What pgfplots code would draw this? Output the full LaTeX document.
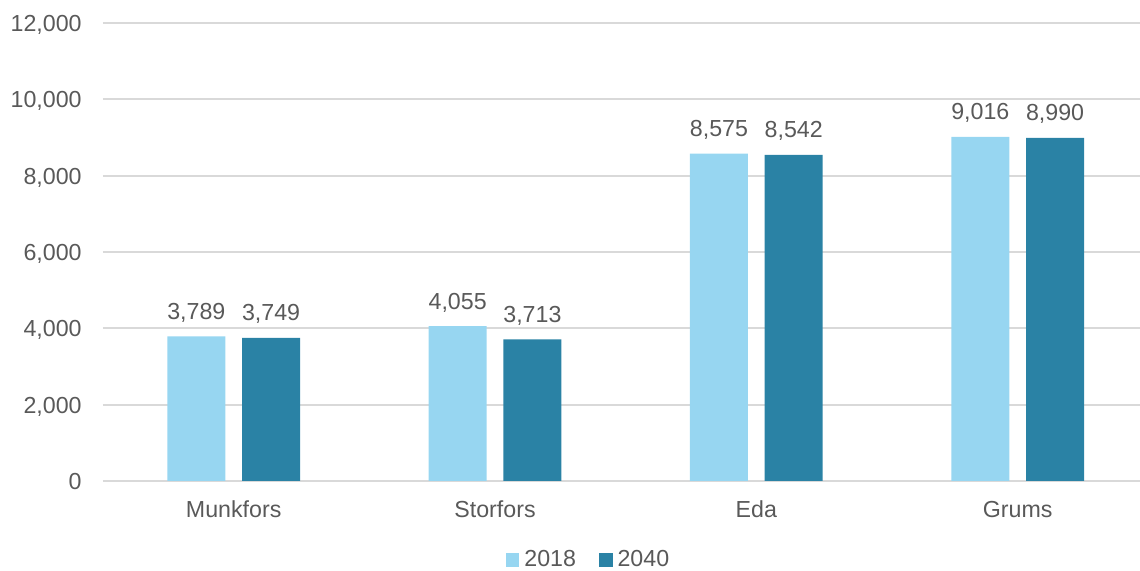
\documentclass[border=0pt]{standalone}
\usepackage{fontspec}
\setmainfont{Liberation Sans}
\usepackage{pgfplots}
\pgfplotsset{compat=1.18}
\definecolor{lightb}{HTML}{97D6F1}
\definecolor{darkb}{HTML}{2A82A5}
\definecolor{txt}{HTML}{595959}
\definecolor{gridc}{HTML}{D9D9D9}
\newcommand{\ff}{\fontsize{11.6pt}{13.9pt}\selectfont}
\begin{document}
\begin{tikzpicture}
\begin{axis}[
  at={(0pt,0pt)}, anchor=south west,
  scale only axis, width=518.5pt, height=229pt,
  xmin=-0.5, xmax=3.468,
  ymin=0, ymax=12000,
  ytick={0,2000,4000,6000,8000,10000,12000},
  scaled y ticks=false,
  xtick={0,1,2,3},
  xticklabels={Munkfors,Storfors,Eda,Grums},
  axis line style={draw=none},
  major tick length=0pt,
  ymajorgrids, grid style={gridc, line width=1pt},
  /pgf/number format/.cd, fixed, precision=0, 1000 sep={,}, assume math mode=true,
  /pgfplots/.cd,
  tick label style={font=\ff, text=txt},
  yticklabel style={anchor=base east, xshift=-10.5pt, yshift=-4.2pt, inner sep=0pt},
  xticklabel style={anchor=base, yshift=-18.2pt, inner sep=0pt},
  ybar, bar shift=0pt, bar width=0.222,
  nodes near coords,
  nodes near coords style={font=\ff, text=txt, anchor=base, yshift=8.5pt, inner sep=0pt, /pgf/number format/.cd, fixed, precision=0, 1000 sep={,}, assume math mode=true},
  legend columns=2,
  legend style={draw=none, font=\ff, text=txt, at={(0.4696,-0.1725)}, anchor=center,
    /tikz/every even column/.append style={column sep=9pt}, inner sep=0pt,
    nodes={inner xsep=2.5pt, inner ysep=0pt}},
]
\addplot[fill=lightb, draw=none, legend image code/.code={\fill[lightb] (0pt,-3.4pt) rectangle (6.8pt,3.4pt);}]
  coordinates {(-0.143,3789) (0.857,4055) (1.857,8575) (2.857,9016)};
\addlegendentry{2018}
\addplot[fill=darkb, draw=none, legend image code/.code={\fill[darkb] (0pt,-3.4pt) rectangle (6.8pt,3.4pt);}]
  coordinates {(0.143,3749) (1.143,3713) (2.143,8542) (3.143,8990)};
\addlegendentry{2040}
\end{axis}
\pgfresetboundingbox
\useasboundingbox (-51.5pt,-45pt) rectangle (518.5pt,240.5pt);
\end{tikzpicture}
\end{document}
